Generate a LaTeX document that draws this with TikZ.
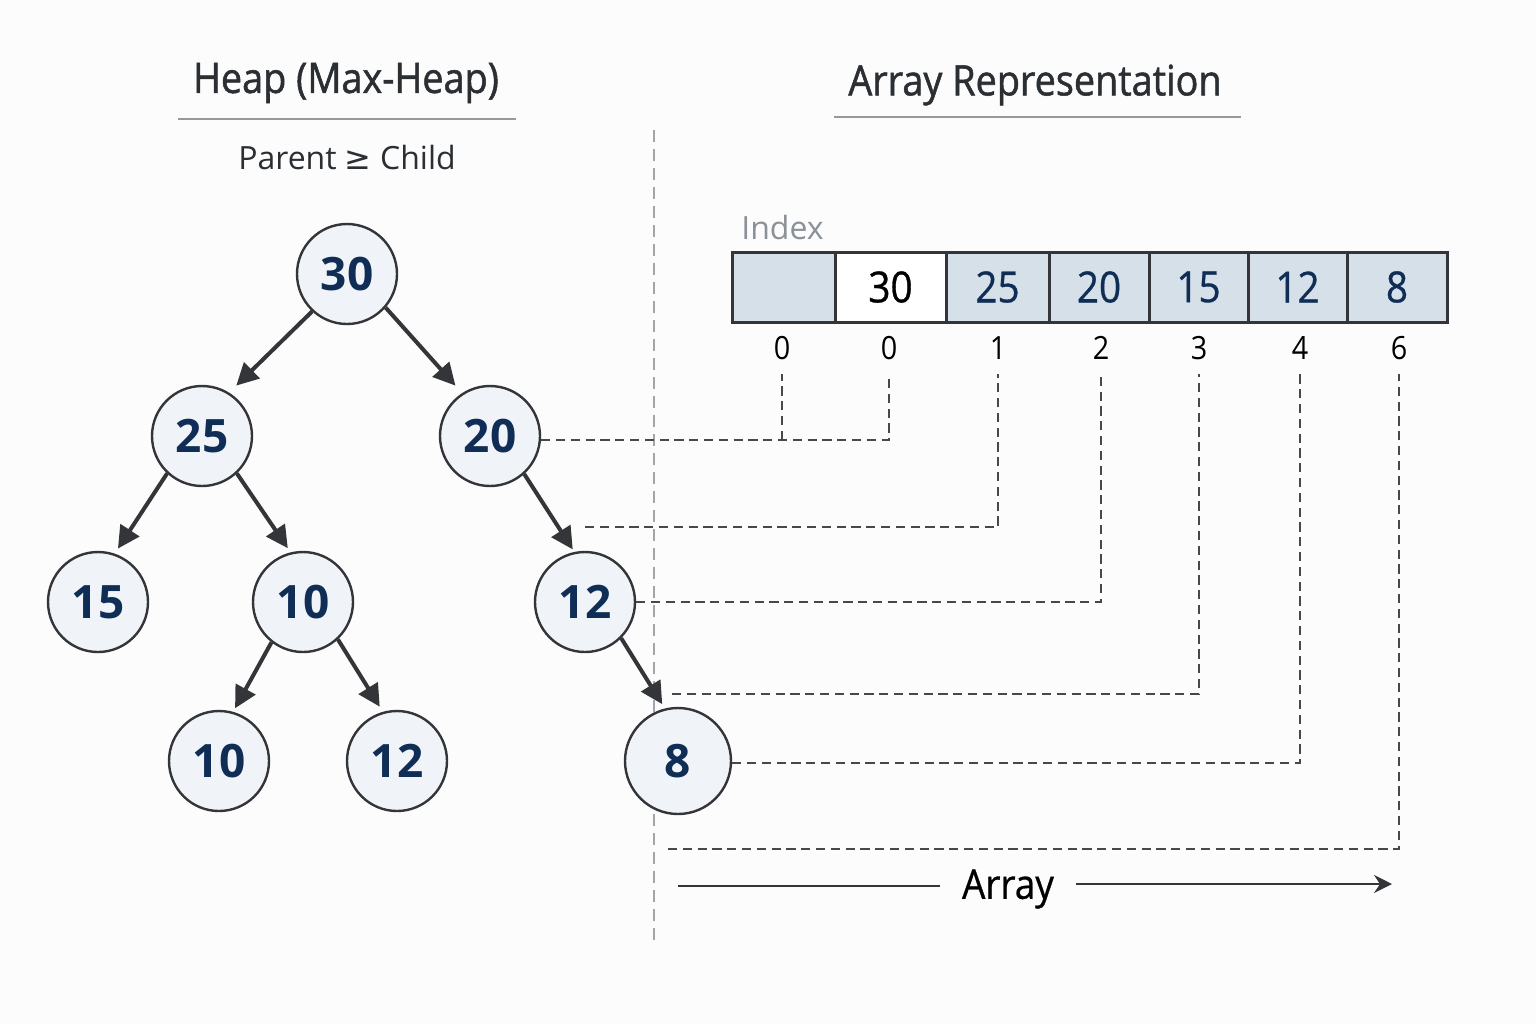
\documentclass[tikz,border=0pt]{standalone}
\usepackage{fontspec}
\setmainfont{Open Sans}
\newfontfamily\symfont{DejaVu Sans}
\newfontfamily\headfont[FakeStretch=0.9,FakeBold=1.2]{Open Sans}
\newfontfamily\narrowfont[FakeStretch=0.9]{Open Sans}
\newfontfamily\cellfont[FakeStretch=0.9,FakeBold=0.7]{Open Sans}
\usetikzlibrary{arrows.meta}
\definecolor{ink}{HTML}{2B2F33}
\definecolor{navy}{HTML}{0F2D55}
\definecolor{nodefill}{HTML}{F0F3F7}
\definecolor{cellfill}{HTML}{D5E0E8}
\definecolor{edgecol}{HTML}{333538}
\definecolor{dashcol}{HTML}{45484C}
\definecolor{sepcol}{HTML}{A3A6A9}
\definecolor{idxgray}{HTML}{8A9198}
\begin{document}
\begin{tikzpicture}[x=0.5pt,y=-0.5pt,
  heapnode/.style={circle,draw=edgecol,line width=1.2pt,fill=nodefill,minimum size=50pt,inner sep=0pt,
    font=\fontsize{23}{23}\selectfont\bfseries,text=navy},
  treeedge/.style={draw=edgecol,line width=2pt,-{Triangle[length=11pt,width=11pt]}},
  cell/.style={draw=edgecol,line width=1.5pt,fill=cellfill,minimum height=35pt,inner sep=0pt,outer sep=0pt,
    font=\cellfont\fontsize{21.5}{21.5}\selectfont,text=navy},
  idx/.style={font=\narrowfont\fontsize{16}{16}\selectfont,text=black,inner sep=1pt},
  link/.style={draw=dashcol,line width=0.9pt,dash pattern=on 4.6pt off 2.8pt},
  heading/.style={font=\headfont\fontsize{21}{21}\selectfont,text=ink},
  rule/.style={draw=gray!80,line width=0.6pt}]
% canvas
\fill[white!98!gray] (0,0) rectangle (1536,1024);
\useasboundingbox (0,0) rectangle (1536,1024);

% headings
\node[heading] (htitle) at (346,83) {Heap (Max-Heap)};
\draw[rule] (178,119) -- (516,119);
\node[font=\fontsize{16}{16}\selectfont,text=ink] (hsub) at (347,157) {Parent {\symfont ≥} Child};
\node[heading] (atitle) at (1035,85) {Array Representation};
\draw[rule] (834,117) -- (1241,117);

% separator
\draw[draw=sepcol,line width=0.8pt,dash pattern=on 6pt off 3.5pt] (654,130) -- (654,940);

% tree nodes
\node[heapnode] (n30) at (347,274) {30};
\node[heapnode] (n25) at (202,436) {25};
\node[heapnode] (n20) at (490,436) {20};
\node[heapnode] (n15) at (98,602) {15};
\node[heapnode] (n10a) at (303,602) {10};
\node[heapnode] (n12a) at (585,602) {12};
\node[heapnode] (n10b) at (219,761) {10};
\node[heapnode] (n12b) at (397,761) {12};
\node[heapnode,minimum size=53pt] (n8) at (678,761) {8};

% tree edges
\draw[treeedge,shorten >=5pt] (n30.227) -- (n25.58);
\draw[treeedge,shorten >=5pt] (n30.319) -- (n20.123);
\draw[treeedge,shorten >=3pt] (n25.227) -- (n15.71);
\draw[treeedge,shorten >=2.5pt] (n25.313) -- (n10a.104);
\draw[treeedge,shorten >=1.5pt] (n20.312) -- (n12a.102);
\draw[treeedge,shorten >=2pt] (n10a.232) -- (n10b.74);
\draw[treeedge,shorten >=3pt] (n10a.313) -- (n12b.106);
\draw[treeedge,shorten >=2.5pt] (n12a.315) -- (n8.104);

% array
\node[font=\fontsize{16}{16}\selectfont,text=idxgray,anchor=west,inner sep=0pt] (lblidx) at (741,227) {Index};
\node[cell,minimum width=51.5pt] (c0) at (783.5,287) {};
\node[cell,minimum width=55.5pt,fill=white,text=black] (c1) at (890.5,287) {30};
\node[cell,minimum width=51.5pt] (c2) at (997.5,287) {25};
\node[cell,minimum width=50pt] (c3) at (1099,287) {20};
\node[cell,minimum width=49.5pt] (c4) at (1198.5,287) {15};
\node[cell,minimum width=49.5pt] (c5) at (1297.5,287) {12};
\node[cell,minimum width=50pt] (c6) at (1397,287) {8};
\draw[edgecol,line width=1.5pt] (c0.north west) rectangle (c6.south east);

% index labels
\node[idx] (i0) at (782,348) {0};
\node[idx] (i1) at (889,348) {0};
\node[idx] (i2) at (998,348) {1};
\node[idx] (i3) at (1101,348) {2};
\node[idx] (i4) at (1199,348) {3};
\node[idx] (i5) at (1300,348) {4};
\node[idx] (i6) at (1399,348) {6};

% free ends of the leader lines
\coordinate (s2) at (585,527);
\coordinate (s4) at (672,694);
\coordinate (s6) at (668,849);

% leader lines from the tree to the slots
\draw[link] (n20.east |- 0,440) -- (i1.south |- 0,440) -- ([yshift=-6pt]i1.south);
\draw[link] (i0.south |- 0,440) -- ([yshift=-6pt]i0.south);
\draw[link] (s2) -- (i2.south |- s2) -- ([yshift=-6pt]i2.south);
\draw[link] (n12a.east) -- (i3.south |- n12a.east) -- ([yshift=-6pt]i3.south);
\draw[link] (s4) -- (i4.south |- s4) -- ([yshift=-6pt]i4.south);
\draw[link] (n8.east |- 0,763) -- (i5.south |- 0,763) -- ([yshift=-6pt]i5.south);
\draw[link] (s6) -- (i6.south |- s6) -- ([yshift=-6pt]i6.south);

% array direction
\node[font=\cellfont\fontsize{20.5}{20.5}\selectfont,text=black,inner xsep=11pt] (arr) at (1008,889) {Array};
\coordinate (a0) at (678,886);
\coordinate (a1) at (1392,884);
\draw[edgecol,line width=0.9pt] (a0) -- (a0 -| arr.west);
\draw[edgecol,line width=0.9pt,-{Stealth[length=9pt,width=9pt,inset=3pt]}] (arr.east |- a1) -- (a1);
\end{tikzpicture}
\end{document}
